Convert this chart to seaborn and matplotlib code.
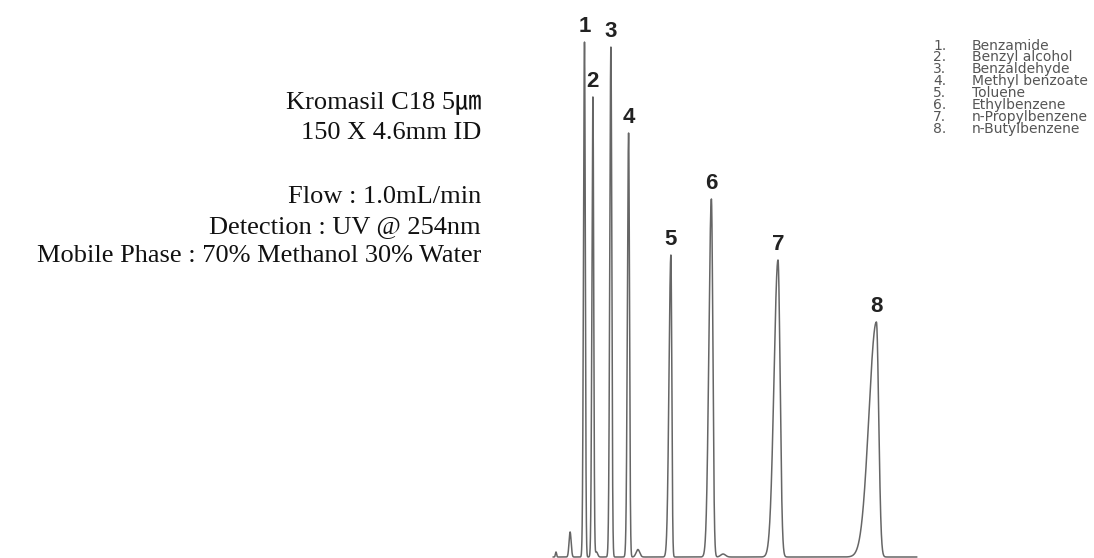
import numpy as np
import pandas as pd
import matplotlib
matplotlib.use('Agg')
import matplotlib.pyplot as plt
import seaborn as sns

# peak table (time in min, height in relative units)
peak_no = [1, 2, 3, 4, 5, 6, 7, 8]
compounds = ['Benzamide', 'Benzyl alcohol', 'Benzaldehyde', 'Methyl benzoate',
             'Toluene', 'Ethylbenzene', 'n-Propylbenzene', 'n-Butylbenzene']
ret_time = [1.05, 1.33, 1.93, 2.52, 3.93, 5.28, 7.50, 10.78]
height = [103.0, 92.0, 102.0, 84.8, 60.4, 71.6, 59.4, 47.0]
sigma_front = [0.033, 0.033, 0.037, 0.040, 0.063, 0.083, 0.133, 0.250]
sigma_tail = [0.027, 0.027, 0.030, 0.030, 0.030, 0.048, 0.070, 0.077]

# small unlabelled peaks
minor_time = [0.10, 0.57, 1.45, 2.83, 5.67]
minor_height = [1.0, 5.0, 1.0, 1.5, 0.6]
minor_sigma = [0.020, 0.035, 0.040, 0.060, 0.080]

run_start, run_end = 0.0, 12.13

conditions = ['Kromasil C18 5㎛', '150 X 4.6mm ID', '',
              'Flow : 1.0mL/min', 'Detection : UV @ 254nm',
              'Mobile Phase : 70% Methanol 30% Water']

t = np.linspace(run_start, run_end, 8000)
signal = np.zeros_like(t)
for rt, h, sl, sr in zip(ret_time, height, sigma_front, sigma_tail):
    s = np.where(t < rt, sl, sr)
    signal += h * np.exp(-0.5 * ((t - rt) / s) ** 2)
for rt, h, s in zip(minor_time, minor_height, minor_sigma):
    signal += h * np.exp(-0.5 * ((t - rt) / s) ** 2)

df = pd.DataFrame({'time': t, 'signal': signal})

sns.set_style('white')

fig = plt.figure(figsize=(10.94, 5.58), dpi=100)
ax = fig.add_axes([550 / 1094, 0, 369 / 1094, 556 / 558])

sns.lineplot(data=df, x='time', y='signal', ax=ax, color='#666666',
             linewidth=1.1, estimator=None, sort=False)
ax.lines[0].set_clip_on(False)

ax.set_xlim(-0.1, 12.2)
ax.set_ylim(-0.2, 111)
ax.axis('off')

for n, rt, h in zip(peak_no, ret_time, height):
    ax.annotate(str(n), xy=(rt, h), xytext=(0, 3.5), textcoords='offset points',
                ha='center', va='bottom', fontsize=16, fontweight='bold',
                color='#222222', family=['Liberation Sans', 'DejaVu Sans'])

# compound key, upper right
num_lines = '\n'.join(f'{n}.' for n in peak_no)
name_lines = '\n'.join(compounds)
key_top = 1 - 38.5 / 558
fig.text(933 / 1094, key_top, num_lines, ha='left', va='top', fontsize=10,
         linespacing=0.815, color='#555555', family='DejaVu Sans')
fig.text(972 / 1094, key_top, name_lines, ha='left', va='top', fontsize=10,
         linespacing=0.815, color='#555555', family='DejaVu Sans')

# column / run conditions, left
cond_y = [103, 133, 165, 197, 227, 256]
for line, yy in zip(conditions, cond_y):
    if line:
        fig.text(481 / 1094, 1 - yy / 558, line, ha='right', va='center',
                 fontsize=19, color='#111111',
                 family=['Liberation Serif', 'Noto Sans CJK KR'])

plt.savefig('out.png', dpi=100, facecolor='white')
